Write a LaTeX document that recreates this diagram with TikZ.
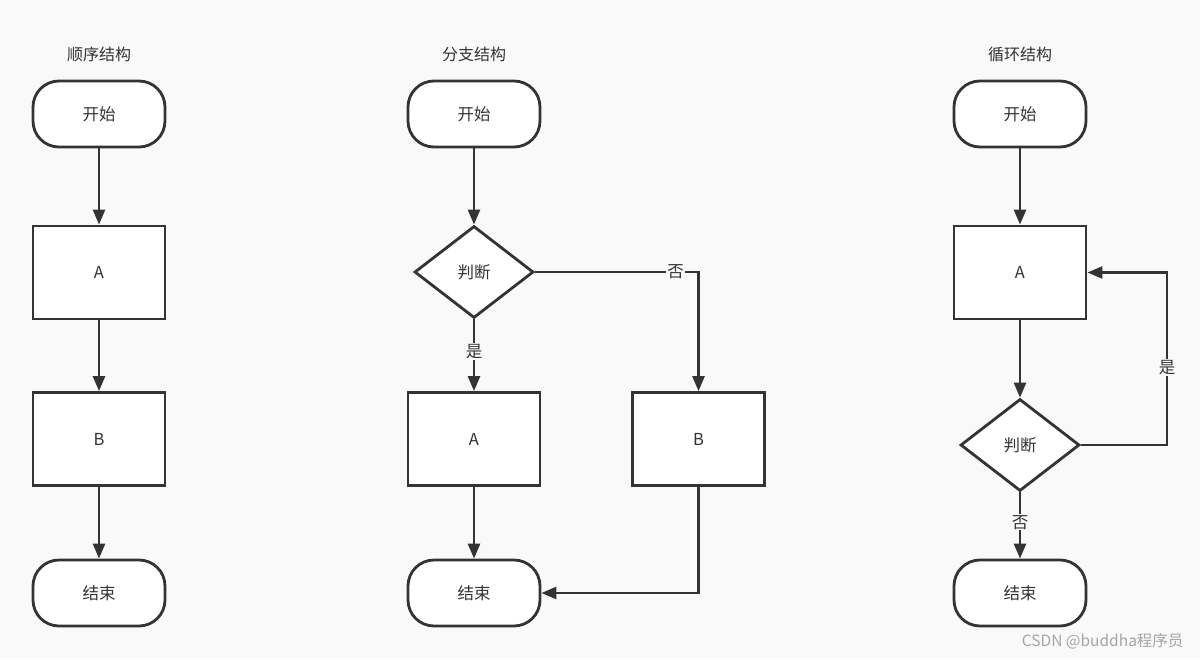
\documentclass[tikz,border=0pt]{standalone}
\usepackage{fontspec}
\setmainfont{Noto Sans CJK SC}
\usetikzlibrary{shapes.geometric,arrows.meta}
\definecolor{bgc}{RGB}{249,249,249}
\definecolor{ink}{RGB}{51,51,51}
\definecolor{wm}{RGB}{165,165,165}
\begin{document}
\begin{tikzpicture}[x=1pt,y=-1pt,
  every node/.style={font=\fontsize{16.5}{18}\selectfont, text=ink},
  term/.style={draw=ink, line width=2.8pt, fill=white, rounded corners=26pt, minimum width=132pt, minimum height=66pt, inner sep=0pt},
  procbox/.style={draw=ink, line width=2.8pt, fill=white, minimum width=132pt, minimum height=93pt, inner sep=0pt},
  decide/.style={draw=ink, line width=2.8pt, fill=white, diamond, minimum width=119pt, minimum height=92pt, inner sep=0pt},
  flow/.style={draw=ink, line width=2.6pt, -{Triangle[length=15pt,width=12pt]}},
  elabel/.style={fill=bgc, inner sep=1pt},
  title/.style={font=\fontsize{16}{18}\selectfont}]
\fill[bgc] (0,0) rectangle (1200,659);
\useasboundingbox (0,0) rectangle (1200,659);
% column 1
\node[title] (t1) at (99,54) {顺序结构};
\node[term] (s1) at (99,114) {开始};
\node[procbox] (a1) at (99,272.5) {A};
\node[procbox] (b1) at (99,439) {B};
\node[term] (e1) at (99,593) {结束};
\draw[flow] (s1) -- (a1);
\draw[flow] (a1) -- (b1);
\draw[flow] (b1) -- (e1);
% column 2
\node[title] (t2) at (474,54) {分支结构};
\node[term] (s2) at (474,114) {开始};
\node[decide] (d2) at (474,272) {判断};
\node[procbox] (a2) at (474,439) {A};
\node[procbox] (b2) at (698.5,439) {B};
\node[term] (e2) at (474,593) {结束};
\draw[flow] (s2) -- (d2);
\draw[flow] (d2) -- node[elabel, pos=0.45] {是} (a2);
\draw[flow] (d2.east) -| node[elabel, pos=0.43] {否} (b2.north);
\draw[flow] (a2) -- (e2);
\draw[flow] (b2.south) |- (e2.east);
% column 3
\node[title] (t3) at (1020,54) {循环结构};
\node[term] (s3) at (1020,114) {开始};
\node[procbox] (a3) at (1020,272.5) {A};
\node[decide] (d3) at (1020,445) {判断};
\node[term] (e3) at (1020,593) {结束};
\coordinate (c3) at (1167,445);
\draw[flow] (s3) -- (a3);
\draw[flow] (a3) -- (d3);
\draw[flow] (d3) -- node[elabel, pos=0.45] {否} (e3);
\draw[flow] (d3.east) -- (c3) |- node[elabel, pos=0.225] {是} (a3.east);
% watermark
\node[text=wm, font=\fontsize{15.5}{18}\selectfont, anchor=east] (wmk) at (1187,641) {CSDN @buddha程序员};
\end{tikzpicture}
\end{document}
